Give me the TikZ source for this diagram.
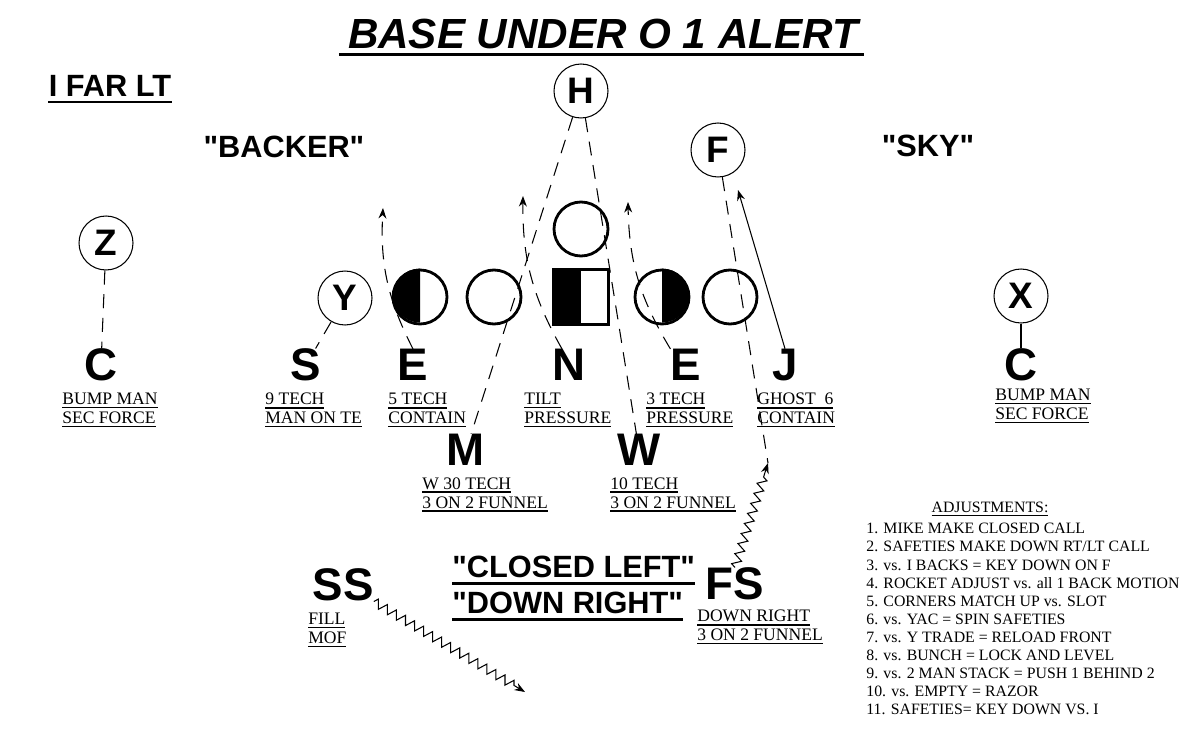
\documentclass[tikz,border=0pt]{standalone}
\usepackage{fontspec}
\setmainfont{Liberation Serif}
\newfontfamily\headfont{Liberation Sans}

\usetikzlibrary{arrows.meta,decorations.pathmorphing}

\newcommand{\ulbl}[1]{\setbox0=\hbox{#1}\rlap{\rule[-2pt]{\wd0}{0.7pt}}\box0}

\begin{document}
\begin{tikzpicture}[x=0.02cm, y=-0.02cm,
        player/.style={draw, circle, minimum size=1.08cm, inner sep=0pt, line width=0.6pt,
            font=\headfont\bfseries\fontsize{21}{21}\selectfont},
        lineman/.style={draw, circle, minimum size=1.08cm, inner sep=0pt, line width=1.6pt},
        defender/.style={inner sep=0pt, font=\headfont\bfseries\fontsize{26}{26}\selectfont},
        job/.style={anchor=north west, align=left, inner sep=0pt, font=\fontsize{10}{10.8}\selectfont},
        callout/.style={inner sep=0pt, font=\headfont\bfseries\fontsize{17.5}{17.5}\selectfont},
        keyline/.style={dash pattern=on 8pt off 5.5pt, line width=0.6pt},
        tip/.style={-{Stealth[length=6pt,width=4.5pt]}},
        wiggle/.style={decorate, decoration={zigzag, segment length=6pt, amplitude=2.5pt, post length=6pt}}]

        \useasboundingbox (0,0) rectangle (1200,733);

        % Titel
        \node[inner sep=1pt, font=\headfont\bfseries\itshape\fontsize{24}{24}\selectfont] (title) at (603,34) {BASE UNDER O 1 ALERT};
        \draw[line width=2.2pt] ([xshift=-4pt,yshift=-2pt]title.south west) -- ([xshift=2pt,yshift=-2pt]title.south east);

        \node[callout] (form) at (110,86) {I FAR LT};
        \draw[line width=1.4pt] ([yshift=-3pt]form.south west) -- ([yshift=-3pt]form.south east);

        \node[callout] (backer) at (284,147) {"BACKER"};
        \node[callout] (sky) at (928,146) {"SKY"};

        % Offense
        \node[player] (wrz) at (106,243) {Z};
        \node[player] (te) at (345,298) {Y};
        \node[lineman] (lt) at (420,297) {};
        \node[lineman] (lg) at (494,297) {};
        \node[draw, line width=1.6pt, minimum size=1.1cm, inner sep=0pt] (ctr) at (581,297) {};
        \node[lineman] (rg) at (662,297) {};
        \node[lineman] (rt) at (730,297) {};
        \node[lineman] (qb) at (581,229) {};
        \node[player] (hb) at (581,91) {H};
        \node[player] (fb) at (718,150) {F};
        \node[player] (wrx) at (1021,296) {X};

        \fill (lt.north) arc[start angle=90, end angle=270, radius=0.54cm] -- cycle;
        \fill (rg.north) arc[start angle=90, end angle=-90, radius=0.54cm] -- cycle;
        \fill (ctr.north west) rectangle (ctr.south);

        % Defense
        \node[defender] (cL) at (101,365) {C};
        \node[defender] (sam) at (306,365) {S};
        \node[defender] (eL) at (413,365) {E};
        \node[defender] (nose) at (569,365) {N};
        \node[defender] (eR) at (686,365) {E};
        \node[defender] (jack) at (785,365) {J};
        \node[defender] (cR) at (1021,365) {C};
        \node[defender] (mike) at (466,450) {M};
        \node[defender] (will) at (639,450) {W};
        \node[defender] (ssaf) at (343,585) {SS};
        \node[defender] (fsaf) at (735,584) {FS};

        \node[job] (cLjob) at (62,393) {\ulbl{BUMP MAN}\\\ulbl{SEC FORCE}};
        \node[job] (samjob) at (265,393) {\ulbl{9 TECH}\\\ulbl{MAN ON TE}};
        \node[job] (eLjob) at (388,393) {\ulbl{5 TECH}\\\ulbl{CONTAIN}};
        \node[job] (nosejob) at (524,393) {\ulbl{TILT}\\\ulbl{PRESSURE}};
        \node[job] (eRjob) at (646,393) {\ulbl{3 TECH}\\\ulbl{PRESSURE}};
        \node[job] (jackjob) at (757,393) {\ulbl{GHOST\ \ 6}\\\ulbl{CONTAIN}};
        \node[job] (cRjob) at (995,389) {\ulbl{BUMP MAN}\\\ulbl{SEC FORCE}};
        \node[job] (mikejob) at (422,477) {\ulbl{W 30 TECH}\\\ulbl{3 ON 2 FUNNEL}};
        \node[job] (willjob) at (610,477) {\ulbl{10 TECH}\\\ulbl{3 ON 2 FUNNEL}};
        \node[job] (ssjob) at (308,613) {\ulbl{FILL}\\\ulbl{MOF}};
        \node[job] (fsjob) at (697,610) {\ulbl{DOWN RIGHT}\\\ulbl{3 ON 2 FUNNEL}};

        % Keys
        \draw[keyline] (wrz) -- (cL);
        \draw[line width=0.6pt] (wrx) -- (cR);
        \draw[keyline] (te) -- (sam);
        \draw[keyline] (hb) -- (mike);
        \draw[keyline] (hb) -- (will);

        % Rush
        \coordinate (eLto) at (383,208);
        \coordinate (noseto) at (523,196);
        \coordinate (eRto) at (628,202);
        \coordinate (jackto) at (738,190);
        \draw[keyline, tip] (eL.north) to[bend left=15] (eLto);
        \draw[keyline, tip] ([xshift=-4pt]nose.north) to[bend left=15] (noseto);
        \draw[keyline, tip] (eR.north west) to[bend left=15] (eRto);
        \draw[line width=0.6pt, tip] (jack.north) -- (jackto);

        % Safeties
        \coordinate (fsend) at (768,463);
        \coordinate (ssto) at (525,692);
        \draw[keyline] (fb) -- (fsend);
        \draw[wiggle, tip, line width=0.6pt] (fsaf.north) -- (fsend);
        \draw[wiggle, tip, line width=0.6pt] (ssaf.south east) -- (ssto);

        % Calls
        \node[inner sep=0pt, anchor=west, font=\headfont\bfseries\fontsize{17.5}{17.5}\selectfont] (closed) at (452,567) {"CLOSED LEFT"};
        \node[inner sep=0pt, anchor=west, font=\headfont\bfseries\fontsize{17.5}{17.5}\selectfont] (down) at (452,603) {"DOWN RIGHT"};
        \draw[line width=1.7pt] ([yshift=-3pt]closed.south west) -- ([yshift=-3pt]closed.south east);
        \draw[line width=1.7pt] ([yshift=-3pt]down.south west) -- ([yshift=-3pt]down.south east);

        % Adjustments
        \node[inner sep=0pt, font=\fontsize{9}{9}\selectfont] (adjhead) at (990,509) {\ulbl{ADJUSTMENTS:}};
        \node[anchor=north west, align=left, inner sep=0pt, font=\fontsize{9}{10.3}\selectfont] (adjlist) at (866,523) {%
            1. MIKE MAKE CLOSED CALL\\
            2. SAFETIES MAKE DOWN RT/LT CALL\\
            3. vs. I BACKS = KEY DOWN ON F\\
            4. ROCKET ADJUST vs. all 1 BACK MOTION\\
            5. CORNERS MATCH UP vs. SLOT\\
            6. vs. YAC = SPIN SAFETIES\\
            7. vs. Y TRADE = RELOAD FRONT\\
            8. vs. BUNCH = LOCK AND LEVEL\\
            9. vs. 2 MAN STACK = PUSH 1 BEHIND 2\\
            10. vs. EMPTY = RAZOR\\
            11. SAFETIES= KEY DOWN VS. I};

    \end{tikzpicture}
\end{document}
